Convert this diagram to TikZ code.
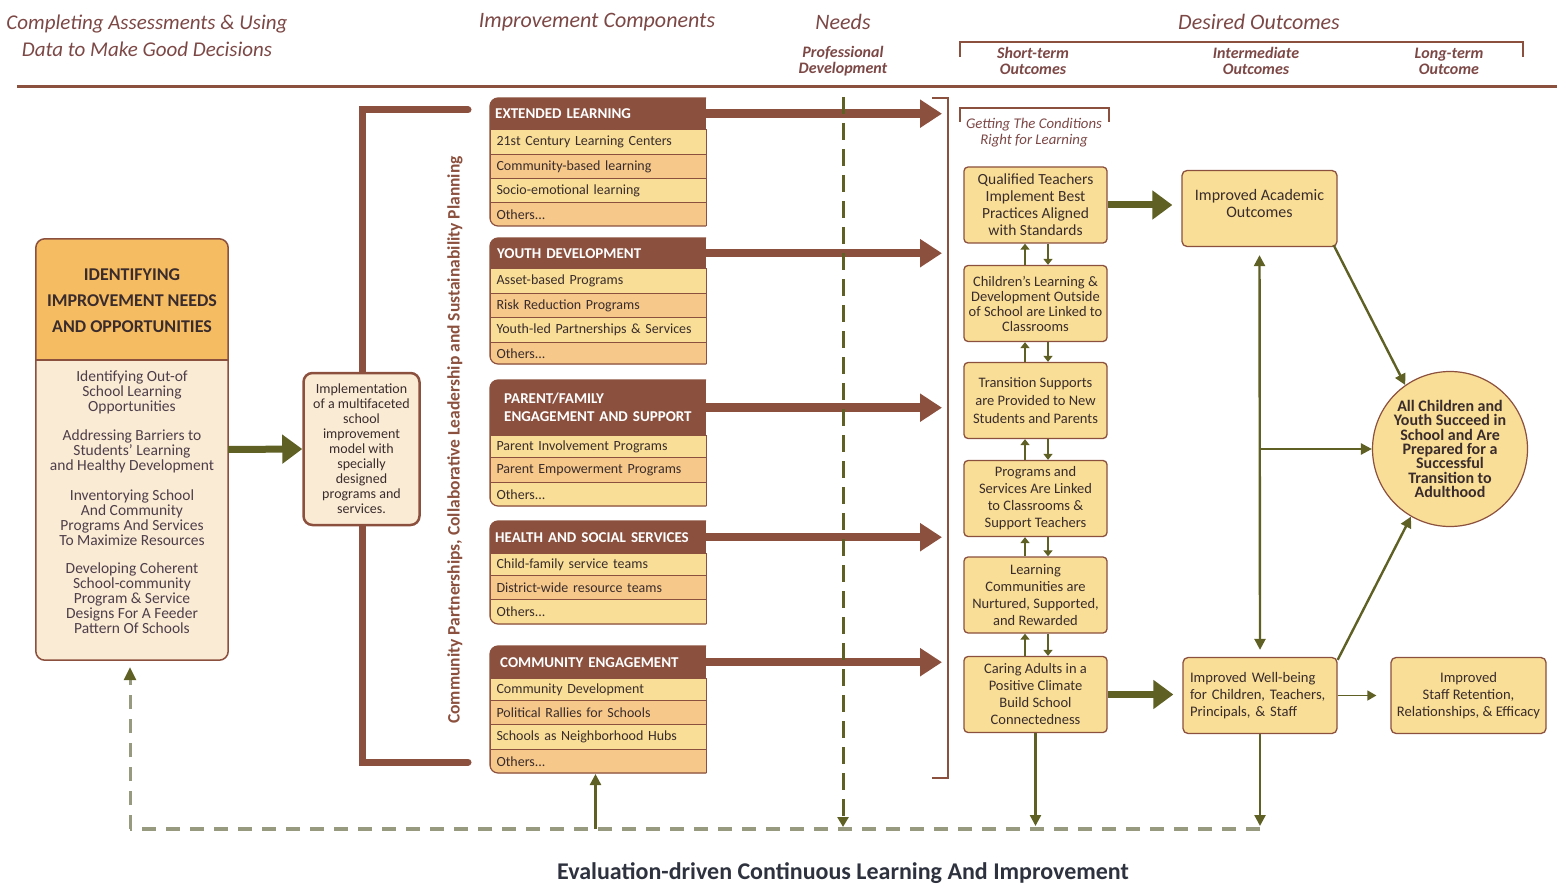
\documentclass[tikz,border=0pt]{standalone}
\usepackage{fontspec}
\setmainfont{Carlito}
\usetikzlibrary{arrows.meta}
\definecolor{brn}{RGB}{140,80,62}
\definecolor{hdrtxt}{RGB}{124,72,70}
\definecolor{olv}{RGB}{94,96,36}
\definecolor{dgrey}{RGB}{152,154,128}
\definecolor{ylw}{RGB}{248,222,150}
\definecolor{orn}{RGB}{246,200,138}
\definecolor{orh}{RGB}{246,188,98}
\definecolor{crm}{RGB}{250,235,213}
\definecolor{txt}{RGB}{58,44,44}
\definecolor{bodytxt}{RGB}{78,62,74}
\definecolor{ttl}{RGB}{45,50,62}
\begin{document}
\begin{tikzpicture}[x=1pt,y=-1pt,
  hdr/.style={font=\itshape\fontsize{22}{27}\selectfont, text=hdrtxt, align=center, inner sep=0pt},
  sub/.style={font=\bfseries\itshape\fontsize{16}{16}\selectfont, text=hdrtxt, align=center, inner sep=0pt},
  row/.style={anchor=north west, minimum width=216pt, text width=204pt, inner xsep=6pt, inner ysep=0pt, align=left, draw=brn, line width=1pt, font=\fontsize{14}{15}\selectfont, text=txt},
  comphead/.style={anchor=north west, minimum width=216pt, text width=206pt, inner xsep=5pt, inner ysep=0pt, align=left, fill=brn, font=\bfseries\fontsize{15}{18}\selectfont, text=white},
  stbox/.style={draw=brn, line width=1.3pt, fill=ylw, rounded corners=4pt, minimum width=143pt, minimum height=76pt, align=center, font=\fontsize{14.5}{17}\selectfont, text=txt, inner sep=0pt},
  outbox/.style={draw=brn, line width=1.3pt, fill=ylw, rounded corners=5pt, minimum width=155pt, minimum height=76pt, font=\fontsize{14.6}{17}\selectfont, text=txt, inner sep=0pt},
  bigbrn/.style={draw=brn, line width=8.5pt, -{Triangle[length=22pt,width=27pt]}},
  bigolv/.style={draw=olv, line width=7pt, -{Triangle[length=20pt,width=28pt]}},
  olvarr/.style={draw=olv, line width=2.4pt, -{Triangle[length=11pt,width=11pt]}},
  smarr/.style={draw=olv, line width=2.6pt, -{Triangle[length=6pt,width=9pt]}},
  grp/.style={font=\fontsize{15.5}{15}\selectfont, text=bodytxt, align=center, inner sep=0pt}
]
\useasboundingbox (0,0) rectangle (1562,885);

% ---------- header ----------
\node[hdr, font=\itshape\fontsize{21}{27}\selectfont] (h1) at (147,35.5) {Completing Assessments \& Using\\Data to Make Good Decisions};
\node[hdr] (h2) at (597,22) {Improvement Components};
\node[hdr] (h3) at (843,22) {Needs};
\node[hdr] (h4) at (1259,22) {Desired Outcomes};
\node[sub] (s1) at (843,61) {Professional\\Development};
\node[sub] (s2) at (1033,61) {Short-term\\Outcomes};
\node[sub] (s3) at (1256,61) {Intermediate\\Outcomes};
\node[sub] (s4) at (1449,61) {Long-term\\Outcome};
\coordinate (dob1) at (960,57); \coordinate (dob2) at (1523,57);
\draw[brn, line width=1.5pt] (dob1) -- (960,42) -- (1523,42) -- (dob2);
\coordinate (rl) at (17,87); \coordinate (rr) at (1557,87);
\draw[brn, line width=3pt] (rl) -- (rr);

% ---------- left box ----------
\node[fill=crm, rounded corners=9pt, minimum width=192pt, minimum height=421pt, inner sep=0pt] (idbox) at (132,449.5) {};
\begin{scope}
  \clip[rounded corners=9pt] (36,239) rectangle (228,660);
  \fill[orh] (36,239) rectangle (228,360);
\end{scope}
\draw[brn, line width=1.5pt] (36,360) -- (228,360);
\draw[brn, line width=1.5pt, rounded corners=9pt] (idbox.north west) rectangle (idbox.south east);
\node[font=\bfseries\fontsize{18}{26}\selectfont, text=txt, align=center, inner sep=0pt] (idh) at (132,301) {IDENTIFYING\\IMPROVEMENT NEEDS\\AND OPPORTUNITIES};
\node[grp] (g1) at (132,392.5) {Identifying Out-of\\School Learning\\Opportunities};
\node[grp] (g2) at (132,451.5) {Addressing Barriers to\\Students' Learning\\and Healthy Development};
\node[grp] (g3) at (132,517.5) {Inventorying School\\And Community\\Programs And Services\\To Maximize Resources};
\node[grp] (g4) at (132,598.5) {Developing Coherent\\School-community\\Program \& Service\\Designs For A Feeder\\Pattern Of Schools};

% ---------- bracket + implementation ----------
\coordinate (bt) at (468,110); \coordinate (bb) at (468,762);
\draw[brn, line width=7pt, line cap=round] (bt) -- (362,110) -- (362,762) -- (bb);
\node[draw=brn, line width=2.5pt, fill=crm, rounded corners=9pt, minimum width=116pt, minimum height=152pt, align=center, font=\fontsize{14}{15}\selectfont, text=txt, inner sep=0pt] (impl) at (361.5,449) {Implementation\\of a multifaceted\\school\\improvement\\model with\\specially\\designed\\programs and\\services.};
\draw[bigolv] (idbox.east) -- (impl.west);

\node[rotate=90, font=\bfseries\fontsize{17.5}{18}\selectfont, text=brn, inner sep=0pt] (vt) at (455,440) {Community Partnerships, Collaborative Leadership and Sustainability Planning};

% ---------- component boxes ----------
% 1 Extended learning
\begin{scope}
  \clip[rounded corners=8pt] (490,98) rectangle (760,226);
  \node[comphead, minimum height=31pt] (el-h) at (490,98) {EXTENDED LEARNING};
  \node[row, fill=ylw, minimum height=25pt] (el-1) at (490,129) {21st Century Learning Centers};
  \node[row, fill=orn, minimum height=24pt] (el-2) at (490,154) {Community-based learning};
  \node[row, fill=ylw, minimum height=24pt] (el-3) at (490,178) {Socio-emotional learning};
  \node[row, fill=orn, minimum height=24pt] (el-4) at (490,202) {Others...};
\end{scope}
\draw[brn, line width=1.2pt, rounded corners=8pt] (706,226) -- (490,226) -- (490,98) -- (706,98);
% 2 Youth development
\begin{scope}
  \clip[rounded corners=8pt] (490,238) rectangle (760,364);
  \node[comphead, minimum height=30pt, inner xsep=7pt, text width=202pt] (yd-h) at (490,238) {YOUTH DEVELOPMENT};
  \node[row, fill=ylw, minimum height=25pt] (yd-1) at (490,268) {Asset-based Programs};
  \node[row, fill=orn, minimum height=24pt] (yd-2) at (490,293) {Risk Reduction Programs};
  \node[row, fill=ylw, minimum height=25pt] (yd-3) at (490,317) {Youth-led Partnerships \& Services};
  \node[row, fill=orn, minimum height=22pt] (yd-4) at (490,342) {Others...};
\end{scope}
\draw[brn, line width=1.2pt, rounded corners=8pt] (706,364) -- (490,364) -- (490,238) -- (706,238);
% 3 Parent/family
\begin{scope}
  \clip[rounded corners=8pt] (490,380) rectangle (760,506);
  \node[comphead, minimum height=55pt, inner xsep=14pt, text width=188pt] (pf-h) at (490,380) {PARENT/FAMILY\\ENGAGEMENT AND SUPPORT};
  \node[row, fill=ylw, minimum height=22pt] (pf-1) at (490,435) {Parent Involvement Programs};
  \node[row, fill=orn, minimum height=25pt] (pf-2) at (490,457) {Parent Empowerment Programs};
  \node[row, fill=ylw, minimum height=24pt] (pf-3) at (490,482) {Others...};
\end{scope}
\draw[brn, line width=1.2pt, rounded corners=8pt] (706,506) -- (490,506) -- (490,380) -- (706,380);
% 4 Health and social services
\begin{scope}
  \clip[rounded corners=8pt] (490,521) rectangle (760,624);
  \node[comphead, minimum height=32pt, inner xsep=5pt, text width=206pt] (hs-h) at (490,521) {HEALTH AND SOCIAL SERVICES};
  \node[row, fill=ylw, minimum height=22pt] (hs-1) at (490,553) {Child-family service teams};
  \node[row, fill=orn, minimum height=24pt] (hs-2) at (490,575) {District-wide resource teams};
  \node[row, fill=ylw, minimum height=25pt] (hs-3) at (490,599) {Others...};
\end{scope}
\draw[brn, line width=1.2pt, rounded corners=8pt] (706,624) -- (490,624) -- (490,521) -- (706,521);
% 5 Community engagement
\begin{scope}
  \clip[rounded corners=8pt] (490,646) rectangle (760,773);
  \node[comphead, minimum height=32pt, inner xsep=10pt, text width=196pt] (ce-h) at (490,646) {COMMUNITY ENGAGEMENT};
  \node[row, fill=ylw, minimum height=22pt] (ce-1) at (490,678) {Community Development};
  \node[row, fill=orn, minimum height=24pt] (ce-2) at (490,700) {Political Rallies for Schools};
  \node[row, fill=ylw, minimum height=25pt] (ce-3) at (490,724) {Schools as Neighborhood Hubs};
  \node[row, fill=orn, minimum height=24pt] (ce-4) at (490,749) {Others...};
\end{scope}
\draw[brn, line width=1.2pt, rounded corners=8pt] (706,773) -- (490,773) -- (490,646) -- (706,646);

% brown arrows
\coordinate (bk) at (942,0);
\foreach \b in {el,yd,pf,hs,ce}{
  \draw[bigbrn] (\b-h.east) -- (\b-h.east -| bk);
}

% right bracket
\coordinate (rb1) at (932,98); \coordinate (rb2) at (932,778);
\draw[brn, line width=1.5pt] (rb1) -- (948,98) -- (948,778) -- (rb2);

% needs dashed line
\coordinate (ndt) at (843,97); \coordinate (ndb) at (843,827);
\draw[olv, line width=3pt, dash pattern=on 17pt off 9pt, -{Triangle[length=10pt,width=11pt]}] (ndt) -- (ndb);

% ---------- short-term ----------
\coordinate (gc1) at (960,122); \coordinate (gc2) at (1109,122);
\draw[brn, line width=1.5pt] (gc1) -- (960,108) -- (1109,108) -- (gc2);
\node[font=\itshape\fontsize{14.8}{16}\selectfont, text=hdrtxt, align=center, inner sep=0pt] (gc) at (1034,133) {Getting The Conditions\\Right for Learning};

\node[stbox, font=\fontsize{15.5}{17}\selectfont] (A) at (1035.5,205) {Qualified Teachers\\Implement Best\\Practices Aligned\\with Standards};
\node[stbox, font=\fontsize{14.5}{15}\selectfont] (B) at (1035.5,303.5) {Children's Learning \&\\Development Outside\\of School are Linked to\\Classrooms};
\node[stbox, font=\fontsize{14.5}{18}\selectfont] (C) at (1035.5,400.5) {Transition Supports\\are Provided to New\\Students and Parents};
\node[stbox] (D) at (1035.5,498.5) {Programs and\\Services Are Linked\\to Classrooms \&\\Support Teachers};
\node[stbox] (E) at (1035.5,595) {Learning\\Communities are\\Nurtured, Supported,\\and Rewarded};
\node[stbox] (F) at (1035.5,694.5) {Caring Adults in a\\Positive Climate\\Build School\\Connectedness};

\foreach \u/\l in {A/B,B/C,C/D,D/E,E/F}{
  \draw[smarr] ([xshift=-10.5pt]\l.north) -- ([xshift=-10.5pt]\u.south);
  \draw[smarr] ([xshift=12.5pt]\u.south) -- ([xshift=12.5pt]\l.north);
}

% ---------- outcomes ----------
\node[outbox] (acad) at (1259.5,208.5) {};
\node[font=\fontsize{16}{17}\selectfont, text=txt, align=center, inner sep=0pt] (acadt) at (1259.5,204) {Improved Academic\\Outcomes};
\node[outbox, minimum width=154pt, text width=140pt, align=left, inner xsep=7pt] (wb) at (1260,695.5) {Improved Well-being\\for Children, Teachers,\\Principals, \& Staff};
\node[outbox, align=center] (staff) at (1468.5,695.5) {Improved\\Staff Retention,\\Relationships, \& Efficacy};
\node[circle, draw=brn, line width=1.2pt, fill=ylw, minimum size=155pt, align=center, font=\bfseries\fontsize{16}{14.4}\selectfont, text=txt, inner sep=0pt] (goal) at (1450,449) {All Children and\\Youth Succeed in\\School and Are\\Prepared for a\\Successful\\Transition to\\Adulthood};

\draw[bigolv] (A.east) -- ([xshift=-9pt]A.east -| acad.west);
\draw[bigolv] (F.east) -- ([xshift=-9pt]F.east -| wb.west);
\draw[olv, line width=2.4pt, {Triangle[length=11pt,width=11pt]}-{Triangle[length=11pt,width=11pt]}] ([yshift=-8pt]acad.south) -- ([yshift=7pt]wb.north);
\coordinate (br) at (1260,449);
\draw[olvarr] (br) -- (goal.west);
\draw[olvarr] ([xshift=-4pt,yshift=2pt]acad.south east) -- (goal.125);
\draw[olvarr] ([yshift=-3pt]wb.north east) -- (goal.240);
\draw[olv, line width=1.6pt, -{Triangle[length=9pt,width=10pt]}] (wb.east) -- ([xshift=-14pt]staff.west);

% ---------- evaluation loop ----------
\coordinate (evl) at (130,829); \coordinate (evr) at (1260,829);
\draw[dgrey, line width=3.5pt, dash pattern=on 14pt off 10pt] (evr) -- (evl);
\draw[dgrey, line width=3pt, dash pattern=on 14pt off 10pt, -{Triangle[length=13pt,width=12pt,color=olv]}] (evl) -- ([yshift=-7pt]idbox.south -| evl);
\draw[olvarr] (F.south) -- ([yshift=3pt]F.south |- evl);
\draw[olvarr] (wb.south) -- ([yshift=3pt]wb.south |- evl);
\draw[olvarr] ([xshift=-3pt]ce-4.south |- evl) -- ([xshift=-3pt]ce-4.south);

\node[font=\bfseries\fontsize{24}{26}\selectfont, text=ttl, inner sep=0pt] (ttl) at (843,873) {Evaluation-driven Continuous Learning And Improvement};
\end{tikzpicture}
\end{document}
